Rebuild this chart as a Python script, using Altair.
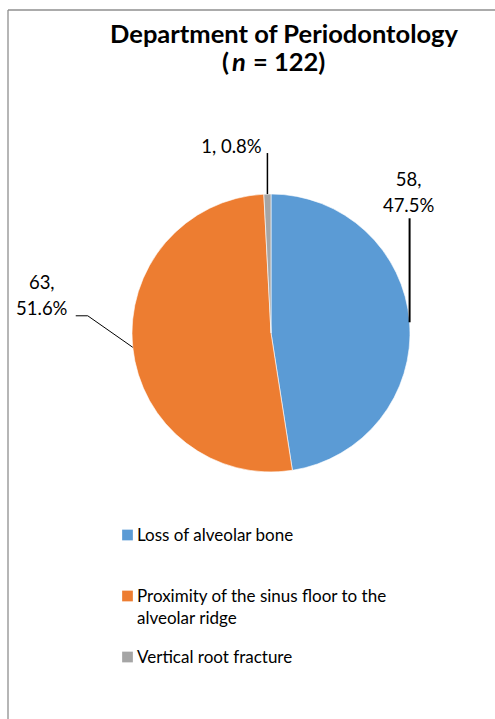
import math
import textwrap
import altair as alt
import pandas as pd

# ---- data ----
categories = ["Loss of alveolar bone",
              "Proximity of the sinus floor to the alveolar ridge",
              "Vertical root fracture"]
counts = [58, 63, 1]
title_line1 = "Department of Periodontology"
title_line2 = ["(", "n", "= 122)"]

# ---- style ----
colors = ["#5B9BD5", "#ED7D31", "#A5A5A5"]
FONT = "Lato"
CX, CY, R = 271, 333, 139
W, H = 495, 719
# leader elbows (relative to slice edge point) and first-line label offset, per slice
leader_style = [
    {"elbows": [(0, -104)], "label": (-1, -142), "wrap": True, "sw": 2.0},
    {"elbows": [(-45, -31.5), (-57, -31.5)], "label": (-91, -64.5), "wrap": True, "sw": 1.0},
    {"elbows": [(0, -41)], "label": (-36, -47), "wrap": False, "sw": 1.5},
]
legend_y_range = [535, 657]

total = sum(counts)
pie_df = pd.DataFrame({"category": categories, "value": counts,
                       "idx": list(range(len(categories)))})

# derived label + leader geometry from the data
seg_rows, lab_rows = [], []
cum = 0
for i, (c, v) in enumerate(zip(categories, counts)):
    mid = (cum + v / 2) / total * 2 * math.pi
    cum += v
    ex, ey = CX + R * math.sin(mid), CY - R * math.cos(mid)
    st = leader_style[i]
    pts = [(ex, ey)] + [(ex + dx, ey + dy) for dx, dy in st["elbows"]]
    for (x1, y1), (x2, y2) in zip(pts[:-1], pts[1:]):
        seg_rows.append({"x": x1, "y": y1, "x2": x2, "y2": y2, "sw": st["sw"]})
    pct = v / total * 100
    sep = "\n" if st["wrap"] else " "
    lab_rows.append({"x": ex + st["label"][0], "y": ey + st["label"][1],
                     "text": f"{v},{sep}{pct:.1f}%"})
seg_df = pd.DataFrame(seg_rows)
lab_df = pd.DataFrame(lab_rows)

legend_df = pd.DataFrame({"category": categories,
                          "idx": list(range(len(categories))),
                          "label": ["\n".join(textwrap.wrap(c, 36)) for c in categories]})

color_scale = alt.Scale(domain=categories, range=colors)

pie = alt.Chart(pie_df).mark_arc(outerRadius=R, stroke="white", strokeWidth=0.6).encode(
    theta=alt.Theta("value:Q", stack=True),
    color=alt.Color("category:N", scale=color_scale, legend=None),
    order=alt.Order("idx:Q"),
    x=alt.value(CX), y=alt.value(CY),
)

leaders = alt.Chart(seg_df).mark_rule(color="#000000").encode(
    x=alt.X("x:Q", scale=None), y=alt.Y("y:Q", scale=None),
    x2="x2:Q", y2="y2:Q",
    strokeWidth=alt.StrokeWidth("sw:Q", scale=None, legend=None),
)

labels = alt.Chart(lab_df).mark_text(font=FONT, fontSize=18.5, color="#000000",
                                     lineBreak="\n", lineHeight=26,
                                     align="center", baseline="middle").encode(
    x=alt.X("x:Q", scale=None), y=alt.Y("y:Q", scale=None), text="text:N")

ly = alt.Y("idx:Q", scale=alt.Scale(domain=[0, len(categories) - 1], range=legend_y_range),
           axis=None)
leg_sq = alt.Chart(legend_df).mark_square(size=115, opacity=1, filled=True).encode(
    x=alt.value(127.5), y=ly,
    color=alt.Color("category:N", scale=color_scale, legend=None))
leg_tx = alt.Chart(legend_df).mark_text(font=FONT, fontSize=17, color="#000000",
                                        lineBreak="\n", lineHeight=22,
                                        align="left", baseline="alphabetic", dy=6).encode(
    x=alt.value(137), y=ly, text="label:N")

TS = 25.5
t1 = alt.Chart(pd.DataFrame({"t": [title_line1]})).mark_text(
    font=FONT, fontSize=TS, fontWeight="bold", align="center", baseline="middle").encode(
    x=alt.value(284), y=alt.value(35), text="t:N")
t2a = alt.Chart(pd.DataFrame({"t": [title_line2[0]]})).mark_text(
    font=FONT, fontSize=TS, fontWeight="bold", align="left", baseline="middle").encode(
    x=alt.value(222), y=alt.value(63), text="t:N")
t2b = alt.Chart(pd.DataFrame({"t": [title_line2[1]]})).mark_text(
    font=FONT, fontSize=TS, fontWeight="bold", fontStyle="italic", align="left",
    baseline="middle").encode(x=alt.value(232), y=alt.value(63), text="t:N")
t2c = alt.Chart(pd.DataFrame({"t": [title_line2[2]]})).mark_text(
    font=FONT, fontSize=TS, fontWeight="bold", align="left", baseline="middle").encode(
    x=alt.value(253), y=alt.value(63), text="t:N")

frame_top = alt.Chart(pd.DataFrame({"a": [0]})).mark_rule(color="#8f8f8f", strokeWidth=1.3).encode(
    x=alt.value(8), x2=alt.value(W), y=alt.value(10))
frame_left = alt.Chart(pd.DataFrame({"a": [0]})).mark_rule(color="#8f8f8f", strokeWidth=1.3).encode(
    x=alt.value(8), y=alt.value(10), y2=alt.value(H))

chart = alt.layer(frame_top, frame_left, pie, leaders, labels, leg_sq, leg_tx,
                  t1, t2a, t2b, t2c).properties(
    width=W, height=H, padding=0, autosize=alt.AutoSizeParams(type="none"),
    background="white"
).configure_view(strokeWidth=0).resolve_scale(x="independent", y="independent")

chart.save("out.html", embed_options={"renderer": "svg", "actions": False})
